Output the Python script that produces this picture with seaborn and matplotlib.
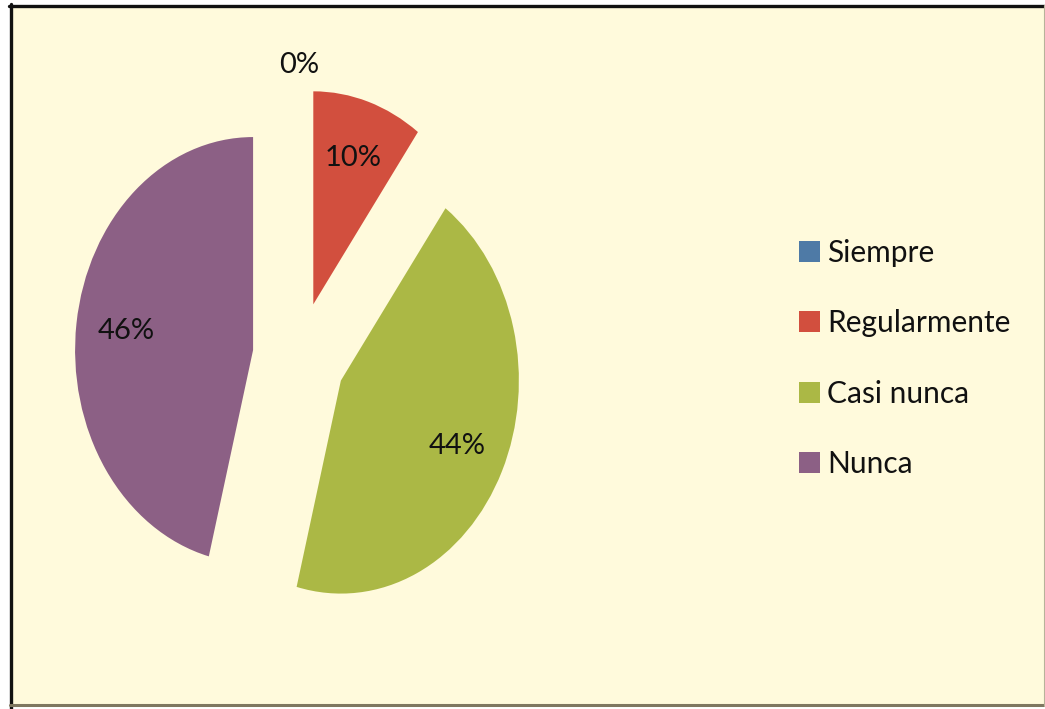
import matplotlib
matplotlib.use("Agg")
import matplotlib.pyplot as plt
from matplotlib.patches import Rectangle
from matplotlib.lines import Line2D
import seaborn as sns

# datos
categorias = ["Siempre", "Regularmente", "Casi nunca", "Nunca"]
porcentajes = [0, 10, 44, 46]
colores = ["#4E7AA6", "#D24F3E", "#ABB845", "#8C6085"]

sns.set_theme(style="white")
plt.rcParams["font.family"] = ["Lato", "DejaVu Sans"]

W, H = 1045, 709
fig = plt.figure(figsize=(W / 100, H / 100), dpi=100, facecolor="white")

# fondo del grafico y bordes
fondo = "#FFFADC"
fig.add_artist(Rectangle((10 / W, 1 - 706 / H), 1034 / W, 701 / H,
                         transform=fig.transFigure, facecolor=fondo, edgecolor="none", zorder=0))
fig.add_artist(Line2D([9 / W, 1], [1 - 5.5 / H, 1 - 5.5 / H], transform=fig.transFigure,
                      color="#111111", lw=2.4))
fig.add_artist(Line2D([10.5 / W, 10.5 / W], [0, 1 - 4 / H], transform=fig.transFigure,
                      color="#111111", lw=2.4))
fig.add_artist(Line2D([10 / W, 1], [1 - 705 / H, 1 - 705 / H], transform=fig.transFigure,
                      color="#7F7760", lw=2.2))
fig.add_artist(Line2D([1043.5 / W, 1043.5 / W], [1 - 706 / H, 1 - 5 / H], transform=fig.transFigure,
                      color="#B8B29A", lw=0.8))

ax = fig.add_axes([0, 0, 1, 1])
ax.set_facecolor("none")

wedges, textos, autotextos = ax.pie(
    porcentajes,
    colors=colores,
    explode=[0.65, 0.26, 0.26, 0.26],
    startangle=90,
    counterclock=False,
    autopct="%1.0f%%",
    pctdistance=0.72,
    wedgeprops=dict(linewidth=0),
    textprops=dict(fontsize=21, color="#111111"),
)

# el grafico original esta estirado en vertical
ax.set_aspect("auto")
ax.set_xlim(-299 / 178, (W - 299) / 178)
ax.set_ylim(-(H - 357) / 213, 357 / 213)
ax.axis("off")

fig.legend(wedges, categorias, loc="upper left",
           bbox_to_anchor=(784 / W, 1 - 224 / H), frameon=False,
           fontsize=21.5, handlelength=0.7, handleheight=0.7,
           handletextpad=0.25, labelspacing=1.42, borderpad=0,
           labelcolor="#111111")

fig.savefig("out.png", dpi=100, facecolor="white")
